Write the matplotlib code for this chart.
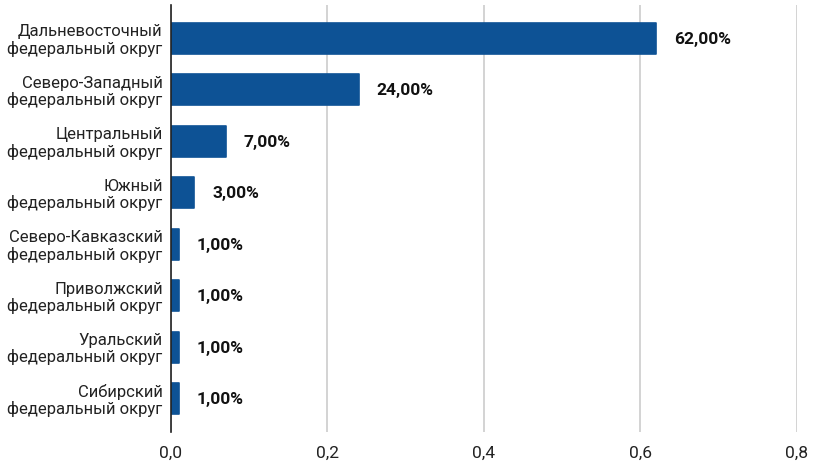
import matplotlib.pyplot as plt

categories = ["Дальневосточный\nфедеральный округ", "Северо-Западный\nфедеральный округ",
              "Центральный\nфедеральный округ", "Южный\nфедеральный округ",
              "Северо-Кавказский\nфедеральный округ", "Приволжский\nфедеральный округ",
              "Уральский\nфедеральный округ", "Сибирский\nфедеральный округ"]
values = [0.62, 0.24, 0.07, 0.03, 0.01, 0.01, 0.01, 0.01]
xticks = [0.0, 0.2, 0.4, 0.6, 0.8]

plt.rcParams['font.family'] = ['Roboto', 'DejaVu Sans']

fig = plt.figure(figsize=(8.15, 4.76), dpi=100)
ax = fig.add_axes([0.2098, 0.0924, 0.768, 0.8971])

pos = list(range(len(values)))
bars = ax.barh(pos, values, height=0.6, color='#0d5295', edgecolor='#0d5295',
               linewidth=1.2, joinstyle='round', zorder=3)
for b, v in zip(bars, values):
    ax.annotate(f"{v*100:.2f}%".replace('.', ','), (b.get_width(), b.get_y() + b.get_height() / 2),
                xytext=(18, -1), textcoords='offset pixels',
                va='center', ha='left', fontsize=12.5, fontweight='bold', color='#111111')

ax.set_yticks(pos)
ax.set_yticklabels(categories, fontsize=12, color='#222222', linespacing=1.1)
ax.set_ylim(7.65, -0.65)
ax.set_xlim(0, 0.8)
ax.set_xticks(xticks)
ax.set_xticklabels([f"{t:.1f}".replace('.', ',') for t in xticks], fontsize=12.5, color='#222222')
ax.tick_params(axis='y', length=0, pad=6)
ax.tick_params(axis='x', length=0, pad=10)
ax.grid(axis='x', color='#cccccc', linewidth=1.2, zorder=0)
for s in ['top', 'right', 'bottom']:
    ax.spines[s].set_visible(False)
ax.spines['left'].set_color('#222222')
ax.spines['left'].set_linewidth(1.2)
ax.spines['left'].set_zorder(4)

fig.savefig('out.png', dpi=100)
